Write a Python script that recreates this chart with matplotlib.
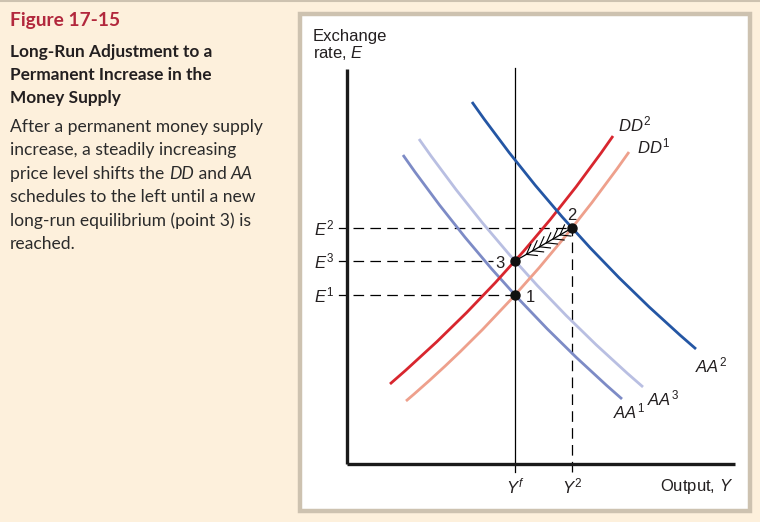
import matplotlib.pyplot as plt
from matplotlib.patches import Rectangle, PathPatch
from matplotlib.path import Path
from math import comb
import numpy as np

plt.rcParams['font.family'] = 'Liberation Sans'
plt.rcParams['mathtext.fontset'] = 'custom'
plt.rcParams['mathtext.rm'] = 'Liberation Sans'
plt.rcParams['mathtext.it'] = 'Liberation Sans:italic'

W, H = 760, 522

# schedules, (output, exchange rate) in chart units from the origin:
# start, points the curve passes through, end
aa1_x = [56, 168, 275]
aa1_y = [309, 169, 65]
aa2_x = [125, 225, 349]
aa2_y = [362, 236, 115]
aa3_x = [72, 168, 296]
aa3_y = [325, 203, 77]
dd1_x = [59, 168, 225, 282]
dd1_y = [63, 169, 236, 312]
dd2_x = [43, 168, 266]
dd2_y = [80, 203, 328]

y_f, y_2 = 168, 225
e1, e3, e2 = 169, 203, 236
e_levels = [e2, e3, e1]
e_labels = ['$E^{2}$', '$E^{3}$', '$E^{1}$']
e_dash_end = [y_2, 146, y_f]
x_max, y_max = 388, 395

# chevrons on the path from 2 to 3
chev_t = [0.2, 0.31, 0.43, 0.55, 0.67, 0.79]

bg = '#fdf0dc'
frame = '#cdc2b0'
ink = '#231f20'


def smooth_path(xs, ys):
    # bezier through the read points (chord-length parameters)
    pts = np.column_stack([xs, ys]).astype(float)
    n = len(pts) - 1
    seg = np.hypot(*np.diff(pts, axis=0).T)
    t = np.concatenate([[0], np.cumsum(seg)]) / seg.sum()
    B = np.array([[comb(n, k) * ti ** k * (1 - ti) ** (n - k) for k in range(n + 1)] for ti in t])
    ctrl = np.linalg.solve(B, pts)
    code = Path.CURVE3 if n == 2 else Path.CURVE4
    return Path(ctrl, [Path.MOVETO] + [code] * n)


fig = plt.figure(figsize=(W / 100, H / 100), dpi=100, facecolor=bg)

def px(x, y):
    return x / W, 1 - y / H

# white box for the diagram
x0, y0 = px(300, 511)
x1, y1 = px(750, 14)
box = Rectangle((x0, y0), x1 - x0, y1 - y0, transform=fig.transFigure,
                facecolor='white', edgecolor=frame, lw=3.2, zorder=-5)
fig.add_artist(box)
fig.add_artist(plt.Line2D([0, 1], [1 - 1 / H, 1 - 1 / H], color=frame, lw=1.5, zorder=-5))

# left caption
cap_font = 'Lato'
fig.text(*px(10, 26), 'Figure 17-15', color='#b2283d', fontsize=13.8, fontweight='bold',
         family=cap_font, va='baseline')
for i, line in enumerate(['Long-Run Adjustment to a', 'Permanent Increase in the', 'Money Supply']):
    fig.text(*px(10, 57 + 23 * i), line, color=ink, fontsize=12.4, fontweight='bold',
             family=cap_font, va='baseline')

body = [
    [('After a permanent money supply', 'normal')],
    [('increase, a steadily increasing', 'normal')],
    [('price level shifts the ', 'normal'), ('DD', 'italic'), (' and ', 'normal'), ('AA', 'italic')],
    [('schedules to the left until a new', 'normal')],
    [('long-run equilibrium (point 3) is', 'normal')],
    [('reached.', 'normal')],
]
r = fig.canvas.get_renderer()
for i, parts in enumerate(body):
    x = 10
    for s, st in parts:
        t = fig.text(*px(x, 132 + 23.4 * i), s.replace(' ', '\u00a0'), color='#2b2b2b',
                     fontsize=12.6, style=st, family=cap_font, va='baseline')
        x += t.get_window_extent(r).width

# diagram
ax = fig.add_axes([347 / W, (H - 464) / H, x_max / W, y_max / H])
ax.set_xlim(0, x_max)
ax.set_ylim(0, y_max)
ax.patch.set_alpha(0)
for s in ['top', 'right']:
    ax.spines[s].set_visible(False)
for s in ['left', 'bottom']:
    ax.spines[s].set_linewidth(2.4)
    ax.spines[s].set_color('#1a1a1a')
    ax.spines[s].set_capstyle('butt')
ax.set_xticks([])
ax.set_yticks([])

curves = [(aa3_x, aa3_y, '#b9bfe2'), (aa1_x, aa1_y, '#7d8bc6'), (dd1_x, dd1_y, '#eea08c'),
          (dd2_x, dd2_y, '#d8262e'), (aa2_x, aa2_y, '#2456a4')]
for cx, cy, col in curves:
    ax.add_patch(PathPatch(smooth_path(cx, cy), facecolor='none', edgecolor=col, lw=2.0,
                           capstyle='butt', zorder=4))

dash = (0, (8.5, 5))
ax.plot([y_f, y_f], [-8, y_max + 1], color='black', lw=0.9, clip_on=False, zorder=2)
ax.plot([y_2, y_2], [-8, e2], color='black', lw=0.9, ls=dash, clip_on=False, zorder=2)
for lev, lab, xe in zip(e_levels, e_labels, e_dash_end):
    ax.plot([6, xe], [lev, lev], color='black', lw=0.9, ls=dash, zorder=2)
    ax.plot([-8, 0], [lev, lev], color='black', lw=0.9, clip_on=False)
    ax.text(-13, lev, lab, ha='right', va='center', fontsize=12, color=ink)

# path from 2 to 3
p2 = np.array([y_2, e2], float)
p3 = np.array([y_f, e3], float)
ax.plot([p2[0], p3[0]], [p2[1], p3[1]], color='black', lw=0.9, zorder=5)
d = (p2 - p3) / np.hypot(*(p2 - p3))
for t in chev_t:
    p = p3 + t * (p2 - p3)
    for ang in (36, -36):
        a = np.radians(ang)
        v = np.array([d[0] * np.cos(a) - d[1] * np.sin(a), d[0] * np.sin(a) + d[1] * np.cos(a)])
        q = p + 11 * v
        ax.plot([p[0], q[0]], [p[1], q[1]], color='black', lw=0.8, zorder=5)

ax.plot([y_f, y_f, y_2], [e1, e3, e2], 'o', color='#111111', ms=6.5, clip_on=False, zorder=6)
ax.text(y_f + 11, e1 - 2, '1', ha='left', va='center', fontsize=12, color=ink)
ax.text(y_f - 10, e3 - 2, '3', ha='right', va='center', fontsize=12, color=ink)
ax.text(y_2, e2 + 13, '2', ha='center', va='center', fontsize=12, color=ink)

ax.text(y_f, -22, '$Y^{f}$', ha='center', va='center', fontsize=12, color=ink)
ax.text(y_2, -22, '$Y^{2}$', ha='center', va='center', fontsize=12, color=ink)
ax.text(x_max - 2, -23, 'Output, $Y$', ha='right', va='center', fontsize=12, color=ink)
ax.text(-34, 423, 'Exchange', ha='left', va='baseline', fontsize=12, color=ink)
ax.text(-34, 406, 'rate, $E$', ha='left', va='baseline', fontsize=12, color=ink)

ax.text(271, 340, '$DD^{2}$', ha='left', va='center', fontsize=12, color=ink)
ax.text(290, 318, '$DD^{1}$', ha='left', va='center', fontsize=12, color=ink)
ax.text(348, 99, '$AA^{2}$', ha='left', va='center', fontsize=12, color=ink)
ax.text(300, 66, '$AA^{3}$', ha='left', va='center', fontsize=12, color=ink)
ax.text(266, 53, '$AA^{1}$', ha='left', va='center', fontsize=12, color=ink)

fig.savefig('out.png', dpi=100, facecolor=bg)
